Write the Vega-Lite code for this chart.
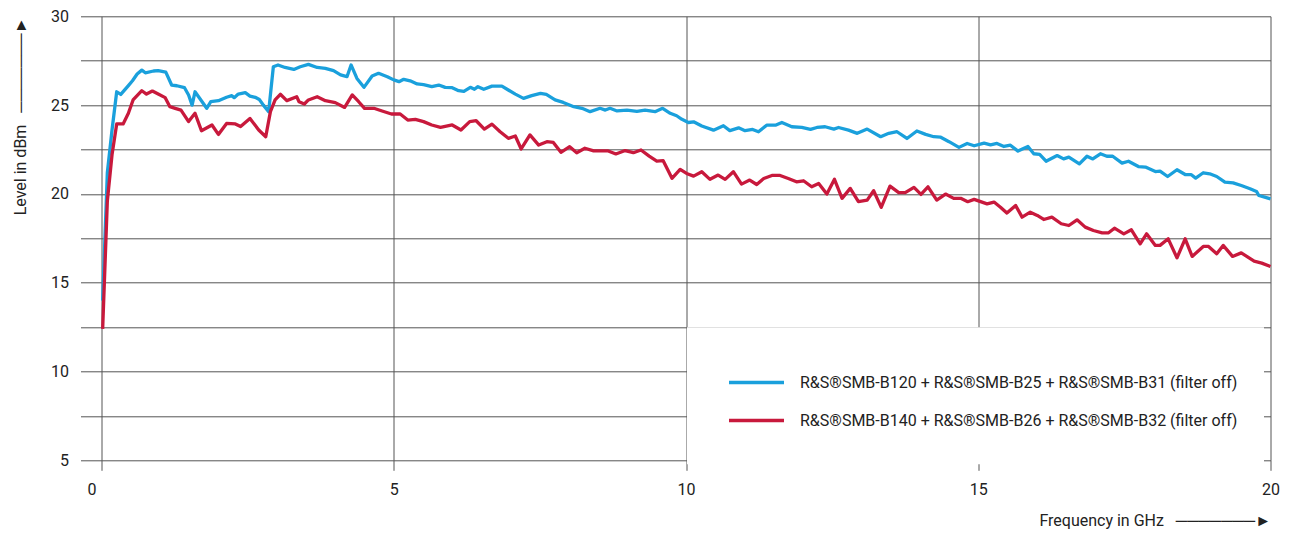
{
  "$schema": "https://vega.github.io/schema/vega-lite/v6.json",
  "width": 1169,
  "height": 444,
  "autosize": {"type": "none"},
  "padding": {"left": 101.5, "top": 16.3, "right": 21.5, "bottom": 77.7},
  "background": "white",
  "config": {
    "view": {"stroke": null},
    "font": "Roboto",
    "axis": {"labelFont": "Roboto", "titleFont": "Roboto"},
    "legend": {"labelFont": "Roboto", "titleFont": "Roboto"}
  },
  "data": {
    "values": [
      {"s": "B120", "f": 0.02, "dbm": 14.0},
      {"s": "B120", "f": 0.1, "dbm": 21.2},
      {"s": "B120", "f": 0.18, "dbm": 23.6},
      {"s": "B120", "f": 0.26, "dbm": 25.75},
      {"s": "B120", "f": 0.33, "dbm": 25.6},
      {"s": "B120", "f": 0.46, "dbm": 26.1},
      {"s": "B120", "f": 0.53, "dbm": 26.37},
      {"s": "B120", "f": 0.61, "dbm": 26.75},
      {"s": "B120", "f": 0.69, "dbm": 26.97},
      {"s": "B120", "f": 0.75, "dbm": 26.82},
      {"s": "B120", "f": 0.89, "dbm": 26.92},
      {"s": "B120", "f": 0.97, "dbm": 26.94},
      {"s": "B120", "f": 1.1, "dbm": 26.86},
      {"s": "B120", "f": 1.2, "dbm": 26.13},
      {"s": "B120", "f": 1.29, "dbm": 26.09},
      {"s": "B120", "f": 1.42, "dbm": 25.98},
      {"s": "B120", "f": 1.49, "dbm": 25.57},
      {"s": "B120", "f": 1.55, "dbm": 25.0},
      {"s": "B120", "f": 1.6, "dbm": 25.75},
      {"s": "B120", "f": 1.7, "dbm": 25.29},
      {"s": "B120", "f": 1.8, "dbm": 24.82},
      {"s": "B120", "f": 1.87, "dbm": 25.19},
      {"s": "B120", "f": 2.0, "dbm": 25.25},
      {"s": "B120", "f": 2.14, "dbm": 25.44},
      {"s": "B120", "f": 2.23, "dbm": 25.53},
      {"s": "B120", "f": 2.27, "dbm": 25.42},
      {"s": "B120", "f": 2.34, "dbm": 25.62},
      {"s": "B120", "f": 2.46, "dbm": 25.7},
      {"s": "B120", "f": 2.54, "dbm": 25.51},
      {"s": "B120", "f": 2.63, "dbm": 25.44},
      {"s": "B120", "f": 2.7, "dbm": 25.32},
      {"s": "B120", "f": 2.77, "dbm": 25.0},
      {"s": "B120", "f": 2.86, "dbm": 24.63},
      {"s": "B120", "f": 2.94, "dbm": 27.16},
      {"s": "B120", "f": 3.02, "dbm": 27.26},
      {"s": "B120", "f": 3.14, "dbm": 27.12},
      {"s": "B120", "f": 3.29, "dbm": 27.01},
      {"s": "B120", "f": 3.4, "dbm": 27.16},
      {"s": "B120", "f": 3.54, "dbm": 27.29},
      {"s": "B120", "f": 3.69, "dbm": 27.12},
      {"s": "B120", "f": 3.83, "dbm": 27.07},
      {"s": "B120", "f": 3.97, "dbm": 26.94},
      {"s": "B120", "f": 4.09, "dbm": 26.7},
      {"s": "B120", "f": 4.2, "dbm": 26.6},
      {"s": "B120", "f": 4.27, "dbm": 27.26},
      {"s": "B120", "f": 4.37, "dbm": 26.5},
      {"s": "B120", "f": 4.49, "dbm": 26.0},
      {"s": "B120", "f": 4.63, "dbm": 26.64},
      {"s": "B120", "f": 4.74, "dbm": 26.79},
      {"s": "B120", "f": 4.89, "dbm": 26.6},
      {"s": "B120", "f": 5.0, "dbm": 26.42},
      {"s": "B120", "f": 5.09, "dbm": 26.32},
      {"s": "B120", "f": 5.17, "dbm": 26.45},
      {"s": "B120", "f": 5.28, "dbm": 26.37},
      {"s": "B120", "f": 5.4, "dbm": 26.19},
      {"s": "B120", "f": 5.51, "dbm": 26.15},
      {"s": "B120", "f": 5.65, "dbm": 26.04},
      {"s": "B120", "f": 5.77, "dbm": 26.13},
      {"s": "B120", "f": 5.88, "dbm": 26.0},
      {"s": "B120", "f": 6.0, "dbm": 25.98},
      {"s": "B120", "f": 6.11, "dbm": 25.81},
      {"s": "B120", "f": 6.2, "dbm": 25.77},
      {"s": "B120", "f": 6.31, "dbm": 26.0},
      {"s": "B120", "f": 6.38, "dbm": 25.89},
      {"s": "B120", "f": 6.44, "dbm": 26.04},
      {"s": "B120", "f": 6.54, "dbm": 25.89},
      {"s": "B120", "f": 6.68, "dbm": 26.07},
      {"s": "B120", "f": 6.85, "dbm": 26.07},
      {"s": "B120", "f": 6.96, "dbm": 25.85},
      {"s": "B120", "f": 7.08, "dbm": 25.62},
      {"s": "B120", "f": 7.22, "dbm": 25.38},
      {"s": "B120", "f": 7.36, "dbm": 25.53},
      {"s": "B120", "f": 7.51, "dbm": 25.66},
      {"s": "B120", "f": 7.61, "dbm": 25.6},
      {"s": "B120", "f": 7.76, "dbm": 25.29},
      {"s": "B120", "f": 7.9, "dbm": 25.15},
      {"s": "B120", "f": 8.08, "dbm": 24.91},
      {"s": "B120", "f": 8.22, "dbm": 24.82},
      {"s": "B120", "f": 8.36, "dbm": 24.63},
      {"s": "B120", "f": 8.53, "dbm": 24.82},
      {"s": "B120", "f": 8.62, "dbm": 24.72},
      {"s": "B120", "f": 8.7, "dbm": 24.82},
      {"s": "B120", "f": 8.82, "dbm": 24.67},
      {"s": "B120", "f": 8.99, "dbm": 24.72},
      {"s": "B120", "f": 9.16, "dbm": 24.65},
      {"s": "B120", "f": 9.3, "dbm": 24.72},
      {"s": "B120", "f": 9.47, "dbm": 24.63},
      {"s": "B120", "f": 9.6, "dbm": 24.82},
      {"s": "B120", "f": 9.73, "dbm": 24.54},
      {"s": "B120", "f": 9.84, "dbm": 24.4},
      {"s": "B120", "f": 9.93, "dbm": 24.2},
      {"s": "B120", "f": 10.04, "dbm": 24.02},
      {"s": "B120", "f": 10.13, "dbm": 24.06},
      {"s": "B120", "f": 10.27, "dbm": 23.82},
      {"s": "B120", "f": 10.47, "dbm": 23.59},
      {"s": "B120", "f": 10.64, "dbm": 23.84},
      {"s": "B120", "f": 10.75, "dbm": 23.56},
      {"s": "B120", "f": 10.9, "dbm": 23.72},
      {"s": "B120", "f": 11.01, "dbm": 23.56},
      {"s": "B120", "f": 11.14, "dbm": 23.63},
      {"s": "B120", "f": 11.24, "dbm": 23.5},
      {"s": "B120", "f": 11.38, "dbm": 23.87},
      {"s": "B120", "f": 11.53, "dbm": 23.87},
      {"s": "B120", "f": 11.64, "dbm": 24.02},
      {"s": "B120", "f": 11.81, "dbm": 23.78},
      {"s": "B120", "f": 11.98, "dbm": 23.74},
      {"s": "B120", "f": 12.13, "dbm": 23.63},
      {"s": "B120", "f": 12.24, "dbm": 23.74},
      {"s": "B120", "f": 12.38, "dbm": 23.78},
      {"s": "B120", "f": 12.53, "dbm": 23.65},
      {"s": "B120", "f": 12.61, "dbm": 23.74},
      {"s": "B120", "f": 12.78, "dbm": 23.59},
      {"s": "B120", "f": 12.93, "dbm": 23.41},
      {"s": "B120", "f": 13.1, "dbm": 23.65},
      {"s": "B120", "f": 13.33, "dbm": 23.22},
      {"s": "B120", "f": 13.47, "dbm": 23.41},
      {"s": "B120", "f": 13.61, "dbm": 23.5},
      {"s": "B120", "f": 13.78, "dbm": 23.12},
      {"s": "B120", "f": 13.95, "dbm": 23.54},
      {"s": "B120", "f": 14.1, "dbm": 23.35},
      {"s": "B120", "f": 14.24, "dbm": 23.22},
      {"s": "B120", "f": 14.35, "dbm": 23.2},
      {"s": "B120", "f": 14.5, "dbm": 22.94},
      {"s": "B120", "f": 14.67, "dbm": 22.62},
      {"s": "B120", "f": 14.81, "dbm": 22.84},
      {"s": "B120", "f": 14.93, "dbm": 22.71},
      {"s": "B120", "f": 15.1, "dbm": 22.86},
      {"s": "B120", "f": 15.21, "dbm": 22.76},
      {"s": "B120", "f": 15.32, "dbm": 22.84},
      {"s": "B120", "f": 15.44, "dbm": 22.67},
      {"s": "B120", "f": 15.55, "dbm": 22.74},
      {"s": "B120", "f": 15.68, "dbm": 22.41},
      {"s": "B120", "f": 15.85, "dbm": 22.67},
      {"s": "B120", "f": 15.95, "dbm": 22.26},
      {"s": "B120", "f": 16.05, "dbm": 22.22},
      {"s": "B120", "f": 16.16, "dbm": 21.84},
      {"s": "B120", "f": 16.35, "dbm": 22.16},
      {"s": "B120", "f": 16.46, "dbm": 21.97},
      {"s": "B120", "f": 16.55, "dbm": 22.07},
      {"s": "B120", "f": 16.73, "dbm": 21.69},
      {"s": "B120", "f": 16.86, "dbm": 22.12},
      {"s": "B120", "f": 16.96, "dbm": 21.97},
      {"s": "B120", "f": 17.09, "dbm": 22.26},
      {"s": "B120", "f": 17.2, "dbm": 22.12},
      {"s": "B120", "f": 17.3, "dbm": 22.12},
      {"s": "B120", "f": 17.46, "dbm": 21.73},
      {"s": "B120", "f": 17.57, "dbm": 21.84},
      {"s": "B120", "f": 17.74, "dbm": 21.54},
      {"s": "B120", "f": 17.86, "dbm": 21.51},
      {"s": "B120", "f": 18.03, "dbm": 21.26},
      {"s": "B120", "f": 18.11, "dbm": 21.28},
      {"s": "B120", "f": 18.24, "dbm": 20.98},
      {"s": "B120", "f": 18.4, "dbm": 21.36},
      {"s": "B120", "f": 18.54, "dbm": 21.09},
      {"s": "B120", "f": 18.64, "dbm": 21.09},
      {"s": "B120", "f": 18.72, "dbm": 20.89},
      {"s": "B120", "f": 18.85, "dbm": 21.19},
      {"s": "B120", "f": 18.96, "dbm": 21.13},
      {"s": "B120", "f": 19.08, "dbm": 20.98},
      {"s": "B120", "f": 19.22, "dbm": 20.66},
      {"s": "B120", "f": 19.36, "dbm": 20.62},
      {"s": "B120", "f": 19.5, "dbm": 20.47},
      {"s": "B120", "f": 19.65, "dbm": 20.29},
      {"s": "B120", "f": 19.76, "dbm": 20.14},
      {"s": "B120", "f": 19.8, "dbm": 19.91},
      {"s": "B120", "f": 19.9, "dbm": 19.82},
      {"s": "B120", "f": 20.0, "dbm": 19.72},
      {"s": "B140", "f": 0.02, "dbm": 12.4},
      {"s": "B140", "f": 0.1, "dbm": 19.6},
      {"s": "B140", "f": 0.18, "dbm": 22.2},
      {"s": "B140", "f": 0.26, "dbm": 23.94},
      {"s": "B140", "f": 0.37, "dbm": 23.94},
      {"s": "B140", "f": 0.46, "dbm": 24.54},
      {"s": "B140", "f": 0.54, "dbm": 25.29},
      {"s": "B140", "f": 0.69, "dbm": 25.81},
      {"s": "B140", "f": 0.77, "dbm": 25.62},
      {"s": "B140", "f": 0.87, "dbm": 25.79},
      {"s": "B140", "f": 0.97, "dbm": 25.62},
      {"s": "B140", "f": 1.09, "dbm": 25.42},
      {"s": "B140", "f": 1.17, "dbm": 24.91},
      {"s": "B140", "f": 1.26, "dbm": 24.82},
      {"s": "B140", "f": 1.36, "dbm": 24.72},
      {"s": "B140", "f": 1.49, "dbm": 24.07},
      {"s": "B140", "f": 1.6, "dbm": 24.54},
      {"s": "B140", "f": 1.71, "dbm": 23.56},
      {"s": "B140", "f": 1.89, "dbm": 23.88},
      {"s": "B140", "f": 2.0, "dbm": 23.35},
      {"s": "B140", "f": 2.14, "dbm": 23.97},
      {"s": "B140", "f": 2.29, "dbm": 23.94},
      {"s": "B140", "f": 2.38, "dbm": 23.79},
      {"s": "B140", "f": 2.54, "dbm": 24.25},
      {"s": "B140", "f": 2.69, "dbm": 23.6},
      {"s": "B140", "f": 2.81, "dbm": 23.22},
      {"s": "B140", "f": 2.89, "dbm": 24.63},
      {"s": "B140", "f": 2.97, "dbm": 25.29},
      {"s": "B140", "f": 3.06, "dbm": 25.61},
      {"s": "B140", "f": 3.17, "dbm": 25.25},
      {"s": "B140", "f": 3.34, "dbm": 25.47},
      {"s": "B140", "f": 3.38, "dbm": 25.19},
      {"s": "B140", "f": 3.47, "dbm": 25.06},
      {"s": "B140", "f": 3.54, "dbm": 25.29},
      {"s": "B140", "f": 3.69, "dbm": 25.47},
      {"s": "B140", "f": 3.83, "dbm": 25.25},
      {"s": "B140", "f": 4.0, "dbm": 25.14},
      {"s": "B140", "f": 4.16, "dbm": 24.87},
      {"s": "B140", "f": 4.29, "dbm": 25.57},
      {"s": "B140", "f": 4.4, "dbm": 25.19},
      {"s": "B140", "f": 4.5, "dbm": 24.82},
      {"s": "B140", "f": 4.66, "dbm": 24.82},
      {"s": "B140", "f": 4.8, "dbm": 24.67},
      {"s": "B140", "f": 4.96, "dbm": 24.5},
      {"s": "B140", "f": 5.11, "dbm": 24.5},
      {"s": "B140", "f": 5.24, "dbm": 24.16},
      {"s": "B140", "f": 5.37, "dbm": 24.2},
      {"s": "B140", "f": 5.51, "dbm": 24.07},
      {"s": "B140", "f": 5.65, "dbm": 23.88},
      {"s": "B140", "f": 5.8, "dbm": 23.75},
      {"s": "B140", "f": 6.0, "dbm": 23.88},
      {"s": "B140", "f": 6.15, "dbm": 23.6},
      {"s": "B140", "f": 6.3, "dbm": 24.07},
      {"s": "B140", "f": 6.41, "dbm": 24.12},
      {"s": "B140", "f": 6.55, "dbm": 23.65},
      {"s": "B140", "f": 6.68, "dbm": 23.93},
      {"s": "B140", "f": 6.82, "dbm": 23.5},
      {"s": "B140", "f": 6.96, "dbm": 23.13},
      {"s": "B140", "f": 7.08, "dbm": 23.26},
      {"s": "B140", "f": 7.18, "dbm": 22.53},
      {"s": "B140", "f": 7.33, "dbm": 23.32},
      {"s": "B140", "f": 7.48, "dbm": 22.75},
      {"s": "B140", "f": 7.62, "dbm": 22.94},
      {"s": "B140", "f": 7.73, "dbm": 22.9},
      {"s": "B140", "f": 7.86, "dbm": 22.34},
      {"s": "B140", "f": 8.01, "dbm": 22.66},
      {"s": "B140", "f": 8.13, "dbm": 22.32},
      {"s": "B140", "f": 8.27, "dbm": 22.57},
      {"s": "B140", "f": 8.42, "dbm": 22.42},
      {"s": "B140", "f": 8.67, "dbm": 22.42},
      {"s": "B140", "f": 8.8, "dbm": 22.25},
      {"s": "B140", "f": 8.96, "dbm": 22.44},
      {"s": "B140", "f": 9.1, "dbm": 22.32},
      {"s": "B140", "f": 9.23, "dbm": 22.47},
      {"s": "B140", "f": 9.37, "dbm": 22.13},
      {"s": "B140", "f": 9.5, "dbm": 21.85},
      {"s": "B140", "f": 9.61, "dbm": 21.87},
      {"s": "B140", "f": 9.76, "dbm": 20.88},
      {"s": "B140", "f": 9.9, "dbm": 21.38},
      {"s": "B140", "f": 10.01, "dbm": 21.15},
      {"s": "B140", "f": 10.13, "dbm": 21.0},
      {"s": "B140", "f": 10.27, "dbm": 21.25},
      {"s": "B140", "f": 10.41, "dbm": 20.82},
      {"s": "B140", "f": 10.55, "dbm": 21.06},
      {"s": "B140", "f": 10.67, "dbm": 20.82},
      {"s": "B140", "f": 10.81, "dbm": 21.25},
      {"s": "B140", "f": 10.95, "dbm": 20.55},
      {"s": "B140", "f": 11.09, "dbm": 20.78},
      {"s": "B140", "f": 11.21, "dbm": 20.53},
      {"s": "B140", "f": 11.33, "dbm": 20.87},
      {"s": "B140", "f": 11.47, "dbm": 21.04},
      {"s": "B140", "f": 11.61, "dbm": 21.04},
      {"s": "B140", "f": 11.75, "dbm": 20.87},
      {"s": "B140", "f": 11.89, "dbm": 20.68},
      {"s": "B140", "f": 12.01, "dbm": 20.74},
      {"s": "B140", "f": 12.15, "dbm": 20.4},
      {"s": "B140", "f": 12.27, "dbm": 20.59},
      {"s": "B140", "f": 12.41, "dbm": 19.99},
      {"s": "B140", "f": 12.54, "dbm": 20.82},
      {"s": "B140", "f": 12.67, "dbm": 19.75},
      {"s": "B140", "f": 12.81, "dbm": 20.31},
      {"s": "B140", "f": 12.95, "dbm": 19.56},
      {"s": "B140", "f": 13.1, "dbm": 19.65},
      {"s": "B140", "f": 13.21, "dbm": 20.18},
      {"s": "B140", "f": 13.34, "dbm": 19.24},
      {"s": "B140", "f": 13.49, "dbm": 20.44},
      {"s": "B140", "f": 13.64, "dbm": 20.07},
      {"s": "B140", "f": 13.75, "dbm": 20.07},
      {"s": "B140", "f": 13.9, "dbm": 20.37},
      {"s": "B140", "f": 14.02, "dbm": 19.97},
      {"s": "B140", "f": 14.14, "dbm": 20.4},
      {"s": "B140", "f": 14.29, "dbm": 19.65},
      {"s": "B140", "f": 14.44, "dbm": 19.99},
      {"s": "B140", "f": 14.58, "dbm": 19.75},
      {"s": "B140", "f": 14.7, "dbm": 19.75},
      {"s": "B140", "f": 14.82, "dbm": 19.56},
      {"s": "B140", "f": 14.93, "dbm": 19.69},
      {"s": "B140", "f": 15.15, "dbm": 19.44},
      {"s": "B140", "f": 15.27, "dbm": 19.54},
      {"s": "B140", "f": 15.38, "dbm": 19.25},
      {"s": "B140", "f": 15.49, "dbm": 18.92},
      {"s": "B140", "f": 15.64, "dbm": 19.35},
      {"s": "B140", "f": 15.75, "dbm": 18.69},
      {"s": "B140", "f": 15.89, "dbm": 18.97},
      {"s": "B140", "f": 16.01, "dbm": 18.79},
      {"s": "B140", "f": 16.12, "dbm": 18.56},
      {"s": "B140", "f": 16.26, "dbm": 18.69},
      {"s": "B140", "f": 16.42, "dbm": 18.32},
      {"s": "B140", "f": 16.55, "dbm": 18.22},
      {"s": "B140", "f": 16.69, "dbm": 18.54},
      {"s": "B140", "f": 16.83, "dbm": 18.13},
      {"s": "B140", "f": 16.97, "dbm": 17.94},
      {"s": "B140", "f": 17.12, "dbm": 17.81},
      {"s": "B140", "f": 17.23, "dbm": 17.81},
      {"s": "B140", "f": 17.33, "dbm": 18.07},
      {"s": "B140", "f": 17.49, "dbm": 17.75},
      {"s": "B140", "f": 17.62, "dbm": 17.98},
      {"s": "B140", "f": 17.77, "dbm": 17.19},
      {"s": "B140", "f": 17.88, "dbm": 17.75},
      {"s": "B140", "f": 18.03, "dbm": 17.1},
      {"s": "B140", "f": 18.11, "dbm": 17.1},
      {"s": "B140", "f": 18.25, "dbm": 17.47},
      {"s": "B140", "f": 18.4, "dbm": 16.4},
      {"s": "B140", "f": 18.54, "dbm": 17.47},
      {"s": "B140", "f": 18.66, "dbm": 16.48},
      {"s": "B140", "f": 18.85, "dbm": 17.04},
      {"s": "B140", "f": 18.94, "dbm": 17.04},
      {"s": "B140", "f": 19.08, "dbm": 16.63},
      {"s": "B140", "f": 19.19, "dbm": 17.1},
      {"s": "B140", "f": 19.35, "dbm": 16.48},
      {"s": "B140", "f": 19.5, "dbm": 16.68},
      {"s": "B140", "f": 19.72, "dbm": 16.21},
      {"s": "B140", "f": 19.85, "dbm": 16.1},
      {"s": "B140", "f": 20.0, "dbm": 15.91}
    ]
  },
  "mark": {"type": "line", "strokeWidth": 3.3, "strokeJoin": "round", "clip": false},
  "encoding": {
    "x": {
      "field": "f",
      "type": "quantitative",
      "scale": {"domain": [0, 20], "nice": false, "zero": false},
      "axis": {
        "values": [0, 5, 10, 15, 20],
        "format": "d",
        "grid": true,
        "gridColor": "#555555",
        "gridOpacity": 1,
        "gridWidth": 1,
        "domain": false,
        "ticks": true,
        "tickSize": 10,
        "tickColor": "#555555",
        "tickWidth": 1,
        "labelFlush": false,
        "labelFontSize": 16,
        "labelColor": "#222222",
        "labelPadding": 11,
        "labelOffset": {"condition": {"test": "datum.value === 0", "value": -10}, "value": 0},
        "title": "Frequency in GHz\u00a0\u00a0\u00a0───────►",
        "titleFontSize": 16,
        "titleFontWeight": "normal",
        "titleColor": "#222222",
        "titleAlign": "right",
        "titleBaseline": "alphabetic",
        "titleX": 1169,
        "titleY": 65.4
      }
    },
    "y": {
      "field": "dbm",
      "type": "quantitative",
      "scale": {"domain": [5, 30], "nice": false, "zero": false},
      "axis": {
        "values": [5, 7.5, 10, 12.5, 15, 17.5, 20, 22.5, 25, 27.5, 30],
        "labelExpr": "datum.value % 5 === 0 ? datum.label : ''",
        "grid": true,
        "gridColor": "#555555",
        "gridOpacity": 1,
        "gridWidth": 1,
        "domain": false,
        "ticks": true,
        "tickSize": 21,
        "tickColor": "#555555",
        "tickWidth": 1,
        "labelFontSize": 16,
        "labelColor": "#222222",
        "labelPadding": 12,
        "title": "Level in dBm\u00a0\u00a0\u00a0───────►",
        "titleFontSize": 16,
        "titleFontWeight": "normal",
        "titleColor": "#222222",
        "titleAngle": -90,
        "titleAlign": "right",
        "titleBaseline": "alphabetic",
        "titleX": -76.5,
        "titleY": 0.7
      }
    },
    "color": {
      "field": "s",
      "type": "nominal",
      "scale": {"domain": ["B120", "B140"], "range": ["#1aa0dc", "#c8193c"]},
      "legend": {
        "orient": "none",
        "legendX": 585.5,
        "legendY": 311,
        "title": " ",
        "titleOrient": "bottom",
        "titleFontSize": 1,
        "titlePadding": 8,
        "padding": 25.7,
        "fillColor": "white",
        "strokeColor": null,
        "symbolType": "stroke",
        "symbolSize": 3025,
        "symbolStrokeWidth": 3.5,
        "symbolOffset": 14.3,
        "labelOffset": 14,
        "rowPadding": 0,
        "labelFontSize": 16,
        "labelColor": "#222222",
        "labelLimit": 700,
        "labelExpr": "(datum.label === 'B120' ? 'R&S®SMB-B120 + R&S®SMB-B25 + R&S®SMB-B31 (filter off)' : 'R&S®SMB-B140 + R&S®SMB-B26 + R&S®SMB-B32 (filter off)') + '\u00a0\u00a0\u00a0'"
      }
    }
  }
}
